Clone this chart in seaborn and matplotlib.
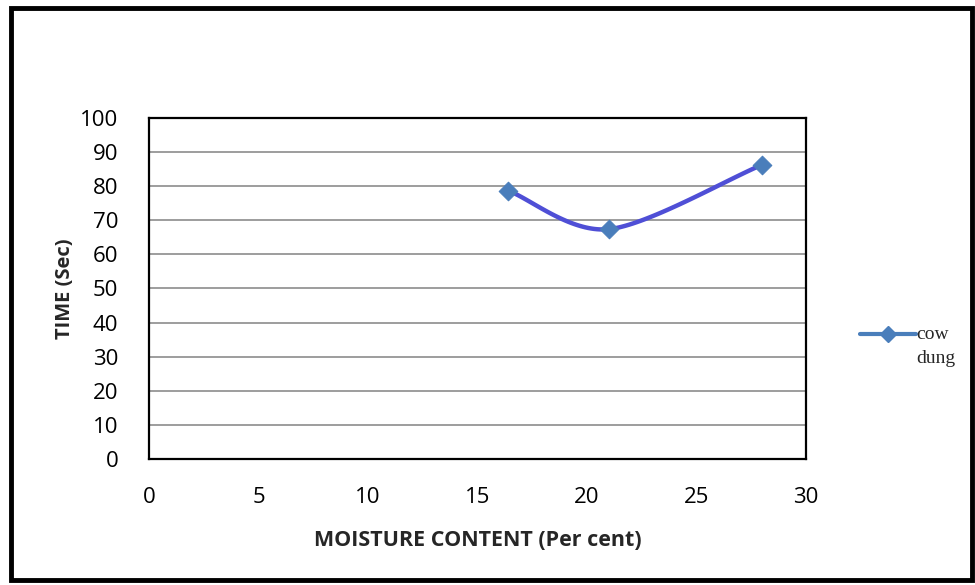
import numpy as np
import pandas as pd
import matplotlib
matplotlib.use("Agg")
import matplotlib.pyplot as plt
import seaborn as sns
from matplotlib.lines import Line2D
from matplotlib.patches import Rectangle
from matplotlib.legend_handler import HandlerLine2D

moisture = [16.4, 21.0, 28.0]
time_sec = [78.7, 67.4, 86.3]
series_name = "cow\ndung"
xticks = [0, 5, 10, 15, 20, 25, 30]
yticks = [0, 10, 20, 30, 40, 50, 60, 70, 80, 90, 100]

sns.set_theme(style="white")
plt.rcParams['font.family'] = ['Open Sans', 'DejaVu Sans']

df = pd.DataFrame({"x": moisture, "y": time_sec})

fig = plt.figure(figsize=(9.75, 5.85), dpi=100)
ax = fig.add_axes([0.1528, 0.2154, 0.6739, 0.5829])


# Smoothed line (Hermite spline through the data points, like Excel's smoothed line)
def smooth(xs, ys, k_in=0.45, k_end=0.7, n=40):
    pts = np.column_stack([xs, ys]).astype(float)
    m = len(pts)
    tang = np.zeros_like(pts)
    for i in range(m):
        if i == 0:
            tang[i] = k_end * (pts[1] - pts[0])
        elif i == m - 1:
            tang[i] = k_end * (pts[-1] - pts[-2])
        else:
            tang[i] = k_in * (pts[i + 1] - pts[i - 1])
    t = np.linspace(0, 1, n)[:, None]
    h00 = 2 * t**3 - 3 * t**2 + 1
    h10 = t**3 - 2 * t**2 + t
    h01 = -2 * t**3 + 3 * t**2
    h11 = t**3 - t**2
    out = [h00 * pts[i] + h10 * tang[i] + h01 * pts[i + 1] + h11 * tang[i + 1] for i in range(m - 1)]
    return np.vstack(out)


curve = smooth(moisture, time_sec)
ax.plot(curve[:, 0], curve[:, 1], color="#4F4FD6", lw=3.2, zorder=3, solid_capstyle="round")
sns.scatterplot(data=df, x="x", y="y", marker="D", s=90, color="#4A7EBB",
                edgecolor="#4A7EBB", ax=ax, zorder=4, legend=False)

ax.set_xlim(0, 30)
ax.set_ylim(0, 100)
ax.set_xticks(xticks)
ax.set_yticks(yticks)
ax.tick_params(axis="both", labelsize=16, colors="black", length=0)
ax.tick_params(axis="y", pad=22)
ax.tick_params(axis="x", pad=20)
ax.yaxis.grid(True, color="#8C8C8C", lw=1.2)
ax.xaxis.grid(False)
for s in ax.spines.values():
    s.set_color("black")
    s.set_linewidth(1.6)

ax.set_xlabel("MOISTURE CONTENT (Per cent)", fontsize=15.5, fontweight="bold", labelpad=16)
ax.set_ylabel("TIME (Sec)", fontsize=14.5, fontweight="bold", labelpad=4)


class ShiftedLine(HandlerLine2D):
    def create_artists(self, legend, orig_handle, xdescent, ydescent, width, height, fontsize, trans):
        arts = super().create_artists(legend, orig_handle, xdescent, ydescent, width, height, fontsize, trans)
        for a in arts:
            a.set_ydata(np.asarray(a.get_ydata()) + 9)
        return arts


handle = Line2D([0], [0], color="#4A7EBB", lw=3, marker="D", markersize=8)
leg = fig.legend([handle], [series_name], loc="center left", bbox_to_anchor=(0.864, 0.408),
                 frameon=False, handlelength=2.9, handletextpad=0.0,
                 handler_map={Line2D: ShiftedLine()},
                 prop={"family": "Liberation Serif", "size": 14})
for t in leg.get_texts():
    t.set_linespacing(1.5)

fig.patches.append(Rectangle((0.0115, 0.009), 0.9855, 0.977, transform=fig.transFigure,
                             fill=False, edgecolor="black", lw=3.5))

fig.savefig("out.png", dpi=100, facecolor="white")
